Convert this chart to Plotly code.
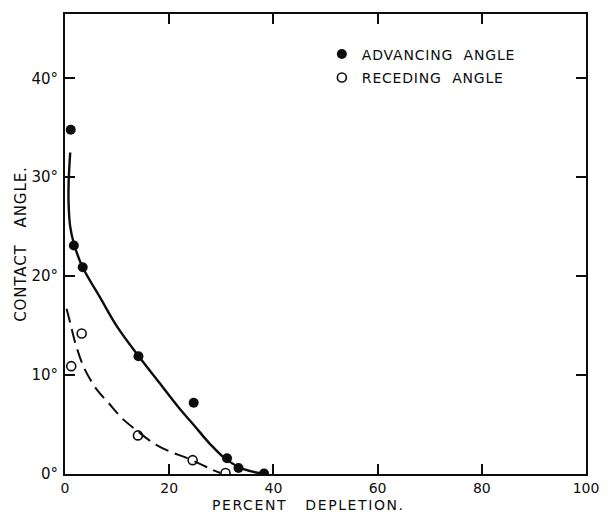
import plotly.graph_objects as go

# Measured points
adv_x = [1.1, 1.7, 3.4, 14.1, 24.7, 31.1, 33.3, 38.2]
adv_y = [34.8, 23.1, 20.9, 11.9, 7.2, 1.6, 0.6, 0.05]
rec_x = [1.2, 3.2, 14.0, 24.5, 30.8]
rec_y = [10.9, 14.2, 3.9, 1.4, 0.1]

# Hand-drawn fitted curves
adv_fit_x = [1.0, 0.7, 0.7, 1.0, 1.7, 3.3, 7.0, 10.0, 14.0, 18.0, 21.7, 24.8, 27.9, 31.1, 34.3, 38.2]
adv_fit_y = [32.5, 29.5, 27.2, 25.0, 23.3, 21.0, 17.6, 14.9, 12.0, 9.3, 6.8, 4.9, 3.0, 1.4, 0.5, 0.0]
rec_fit_x = [0.3, 1.0, 2.0, 3.6, 6.0, 8.5, 11.0, 14.0, 17.0, 20.0, 23.0, 26.0, 28.0, 29.8]
rec_fit_y = [16.7, 15.3, 13.2, 10.8, 8.6, 7.1, 5.6, 4.3, 3.1, 2.3, 1.7, 1.0, 0.5, 0.1]

x_ticks = [0, 20, 40, 60, 80, 100]
y_ticks = [0, 10, 20, 30, 40]
y_tick_labels = ["0°", "10°", "20°", "30°", "40°"]

INK = "#0d0d0d"
FONT = "DejaVu Sans"


def spaced(t, ls=1.0):
    return f'<span style="letter-spacing:{ls}px">{t}</span>'


fig = go.Figure()
fig.add_trace(go.Scatter(x=adv_fit_x, y=adv_fit_y, mode="lines", line=dict(color=INK, width=2.4, shape="spline", smoothing=1.0),
                         showlegend=False, hoverinfo="skip"))
fig.add_trace(go.Scatter(x=rec_fit_x, y=rec_fit_y, mode="lines", line=dict(color=INK, width=2.0, shape="spline", smoothing=0.9, dash="14px,7px"),
                         showlegend=False, hoverinfo="skip"))
fig.add_trace(go.Scatter(x=adv_x, y=adv_y, mode="markers", name=spaced("ADVANCING  ANGLE", 0.8),
                         marker=dict(symbol="circle", size=10, color=INK), legend="legend"))
fig.add_trace(go.Scatter(x=rec_x, y=rec_y, mode="markers", name=spaced("RECEDING  ANGLE", 0.8),
                         marker=dict(symbol="circle-open", size=9, color=INK, line=dict(width=1.6, color=INK)), legend="legend2"))

axis_common = dict(showgrid=False, zeroline=False, showline=True, linecolor=INK, linewidth=2,
                   mirror="ticks", ticks="inside", tickcolor=INK, tickwidth=1.5, ticklen=10)

fig.update_layout(
    width=611, height=512,
    margin=dict(l=65, r=15, t=12, b=38),
    paper_bgcolor="white", plot_bgcolor="white",
    font=dict(family=FONT, color=INK),
    xaxis=dict(range=[0, 100], tickvals=x_ticks, ticktext=[str(v) for v in x_ticks], ticklabelstandoff=0,
               tickfont=dict(family=FONT, size=14, color=INK), **axis_common),
    yaxis=dict(range=[0, 46.5], tickvals=y_ticks, ticktext=y_tick_labels, ticklabelstandoff=2,
               tickfont=dict(family=FONT, size=15, color=INK), **axis_common),
    legend=dict(x=0.493, y=0.912, xanchor="left", yanchor="middle", bgcolor="rgba(0,0,0,0)",
                font=dict(family=FONT, size=14, color=INK)),
    legend2=dict(x=0.493, y=0.861, xanchor="left", yanchor="middle", bgcolor="rgba(0,0,0,0)",
                 font=dict(family=FONT, size=14, color=INK)),
    annotations=[
        dict(text=spaced("PERCENT   DEPLETION.", 1.6), xref="paper", yref="paper", x=(313 - 65) / 531, y=-(505.5 - 474) / 462,
             showarrow=False, xanchor="center", yanchor="middle", font=dict(family=FONT, size=14, color=INK)),
        dict(text=spaced("CONTACT   ANGLE.", 0.9), xref="paper", yref="paper", x=-(65 - 20) / 531, y=(474 - 243) / 462,
             showarrow=False, textangle=-90, xanchor="center", yanchor="middle", font=dict(family=FONT, size=15, color=INK)),
    ],
)

fig.write_html("out.html")
